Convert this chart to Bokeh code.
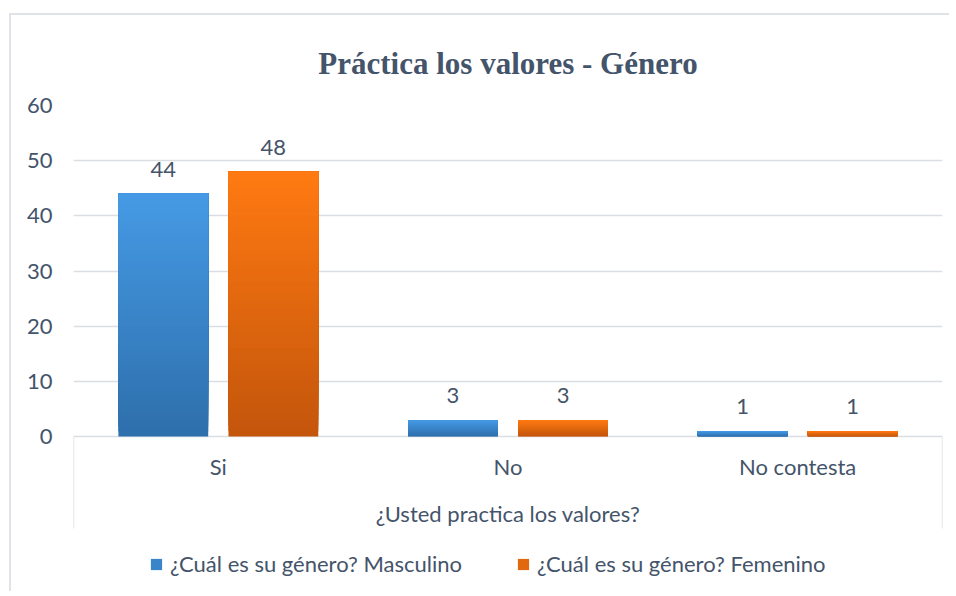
import numpy as np
from bokeh.plotting import figure
from bokeh.models import Range1d, FixedTicker, Legend, LegendItem, ColumnDataSource
from bokeh.core.properties import value
from bokeh.embed import file_html
from bokeh.resources import INLINE

title_text = "Práctica los valores - Género"
categories = ["Si", "No", "No contesta"]
series_names = ["¿Cuál es su género? Masculino", "¿Cuál es su género? Femenino"]
masculino = [44, 3, 1]
femenino = [48, 3, 1]
y_ticks = [0, 10, 20, 30, 40, 50, 60]
x_title = "¿Usted practica los valores?"

TEXT = "#44546A"
GRID = "#DADDE2"
FONT = "Lato"
FS = "22px"
grad = [((46, 112, 172), (70, 154, 229)), ((196, 86, 12), (255, 122, 18))]
offsets = [-0.19, 0.19]
bw = 0.31
N = 48

# pixel layout of the plotting frame (figure coordinates)
W, H = 940, 578
F_LEFT, F_RIGHT, F_TOP, F_BOTTOM = 62, 931, 90, 578
ZERO_PX = 421          # pixel row of value 0
SEP_PX = 513           # bottom of the category separator lines
ppu = (ZERO_PX - F_TOP) / (y_ticks[-1] - y_ticks[0])
y_start = -(F_BOTTOM - ZERO_PX) / ppu
sep_bottom = -(SEP_PX - ZERO_PX) / ppu

p = figure(width=W, height=H, output_backend="svg", toolbar_location=None,
           x_range=Range1d(0, len(categories)), y_range=Range1d(y_start, y_ticks[-1]),
           min_border_left=F_LEFT, min_border_right=W - F_RIGHT, min_border_top=F_TOP,
           min_border_bottom=H - F_BOTTOM, x_axis_location=None,
           title=title_text)
p.styles = {"margin-left": "9px", "margin-top": "13px",
            "border-left": "2px solid #DFE3E8", "border-top": "2px solid #DFE3E8"}
p.outline_line_color = None
p.title.align = "center"
p.title.text_font = "Liberation Serif"
p.title.text_font_style = "bold"
p.title.text_font_size = "31px"
p.title.text_color = TEXT
p.title.standoff = 50

# category separators (left and right edges of the category axis)
n = len(categories)
p.segment(x0=[0, n], x1=[0, n], y0=[0, 0], y1=[sep_bottom, sep_bottom],
          line_color=GRID, line_width=1.5)

legend_items = []
for s, vals in enumerate([masculino, femenino]):
    left, right, bottom, top, colors = [], [], [], [], []
    (r0, g0, b0), (r1, g1, b1) = grad[s]
    for i, v in enumerate(vals):
        cx = i + 0.5 + offsets[s]
        for j in range(N):
            t = j / (N - 1)
            left.append(cx - bw / 2)
            right.append(cx + bw / 2)
            bottom.append(v * j / N)
            top.append(v)
            colors.append("#%02x%02x%02x" % (int(r0 + (r1 - r0) * t), int(g0 + (g1 - g0) * t), int(b0 + (b1 - b0) * t)))
    src = ColumnDataSource(dict(left=left, right=right, bottom=bottom, top=top, color=colors))
    r = p.quad(left="left", right="right", bottom="bottom", top="top", fill_color="color",
               line_color=None, source=src)
    legend_items.append(LegendItem(label=series_names[s], renderers=[r], index=N // 2))
    p.text(x=[i + 0.5 + offsets[s] for i in range(len(vals))], y=vals, text=[str(v) for v in vals],
           text_align="center", text_baseline="bottom", y_offset=-17,
           text_font=value(FONT), text_font_size=FS, text_color=TEXT)

# category labels and axis title
p.text(x=[i + 0.5 for i in range(n)], y=[0] * n, text=categories, text_align="center",
       text_baseline="middle", y_offset=30, text_font=value(FONT), text_font_size=FS, text_color=TEXT)
p.text(x=[n / 2], y=[0], text=[x_title], text_align="center", text_baseline="middle",
       y_offset=77, text_font=value(FONT), text_font_size=FS, text_color=TEXT)

ya = p.yaxis[0]
ya.ticker = FixedTicker(ticks=y_ticks)
ya.axis_line_color = None
ya.major_tick_line_color = None
ya.minor_tick_line_color = None
ya.major_label_standoff = 15
ya.major_label_text_font = FONT
ya.major_label_text_font_size = FS
ya.major_label_text_color = TEXT

p.xgrid.grid_line_color = None
p.ygrid.grid_line_color = GRID
p.ygrid.grid_line_width = 1.5

legend = Legend(items=legend_items, orientation="horizontal", location=(76, 16),
                glyph_width=14, glyph_height=14, label_standoff=7, spacing=54,
                label_text_font=FONT, label_text_font_size=FS, label_text_color=TEXT,
                border_line_color=None, background_fill_alpha=0, padding=4, margin=0)
p.add_layout(legend, "center")

open("out.html", "w").write(file_html(p, INLINE))
